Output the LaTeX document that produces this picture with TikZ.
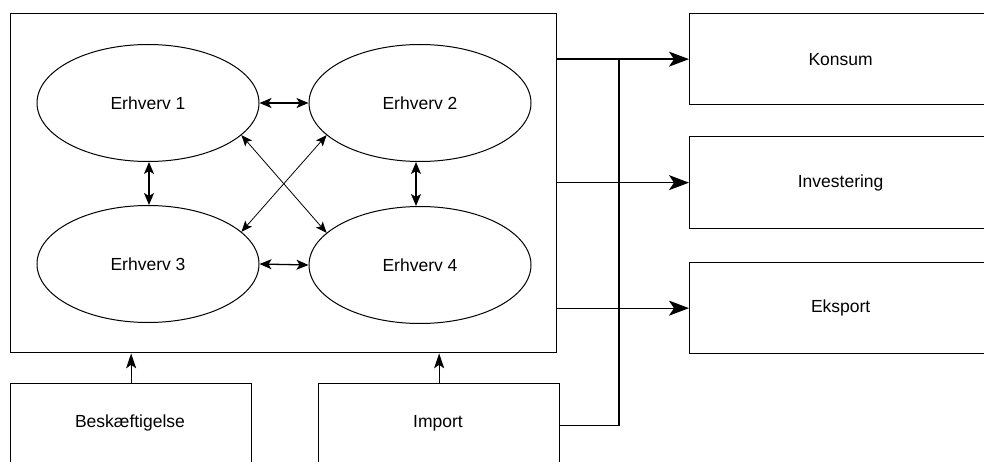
\documentclass[tikz,border=0pt]{standalone}
\usepackage{fontspec}
\setmainfont{Liberation Sans}
\usetikzlibrary{arrows.meta,shapes.geometric}
\begin{document}
\begin{tikzpicture}[x=1pt,y=-1pt,line width=1.3pt,
  font=\fontsize{17.5}{20}\selectfont,
  frame/.style={draw,rectangle,inner sep=0pt,anchor=north west},
  sector/.style={draw,ellipse,inner sep=0pt,minimum width=222pt,minimum height=117pt,line width=1pt},
  bigtip/.style={-{Stealth[length=20pt,width=15pt,inset=5pt]}},
  smalltip/.style={{Stealth[length=12pt,width=10pt,inset=3pt]}-{Stealth[length=12pt,width=10pt,inset=3pt]}},
  diagtip/.style={{Stealth[length=11pt,width=9pt,inset=2.5pt]}-{Stealth[length=11pt,width=9pt,inset=2.5pt]},line width=0.8pt},
  uptip/.style={-{Stealth[length=15pt,width=10pt,inset=3.5pt]}}]
\clip (0,0) rectangle (984,462);
\fill[white] (0,0) rectangle (984,462);

% main frame
\node[frame,minimum width=546pt,minimum height=339pt] (main) at (10,13) {};

% sectors
\node[sector] (e1) at (148,103) {Erhverv 1};
\node[sector] (e2) at (420,103) {Erhverv 2};
\node[sector] (e3) at (148,264) {Erhverv 3};
\node[sector] (e4) at (420,265) {Erhverv 4};

% right boxes
\node[frame,minimum width=302pt,minimum height=91pt] (kon) at (689,13) {};
\node at (kon.center) {Konsum};
\node[frame,minimum width=302pt,minimum height=92pt] (inv) at (689,136) {};
\node at (inv.center) {Investering};
\node[frame,minimum width=302pt,minimum height=91pt] (eks) at (689,262) {};
\node at (eks.center) {Eksport};

% bottom boxes
\node[frame,minimum width=241pt,minimum height=84pt] (besk) at (10,383) {};
\node at (130,423) {Beskæftigelse};
\node[frame,minimum width=241pt,minimum height=84pt] (imp) at (318,383) {};
\node at (438,423) {Import};

% connections among sectors
\draw[smalltip] (e1.east) -- (e2.west);
\draw[smalltip] (e3.east) -- (e4.west);
\draw[smalltip] ([xshift=1pt]e1.south) -- ([xshift=1pt]e3.north);
\draw[smalltip] ([xshift=-4pt]e2.south) -- ([xshift=-4pt]e4.north);
\draw[diagtip] (e1.-19) -- (e4.161);
\draw[diagtip] (e2.199) -- (e3.19);

% outputs
\draw[bigtip] (kon.west -| main.east) -- (kon.west);
\draw[bigtip] (inv.west -| main.east) -- (inv.west);
\draw[bigtip] (eks.west -| main.east) -- (eks.west);

% import feeds the final uses
\coordinate (jtop) at (619,58.5);
\draw (imp.east) -| (jtop);

% inputs
\draw[uptip] (besk.north) -- (besk.north |- main.south);
\draw[uptip] (imp.north) -- (imp.north |- main.south);
\end{tikzpicture}
\end{document}
